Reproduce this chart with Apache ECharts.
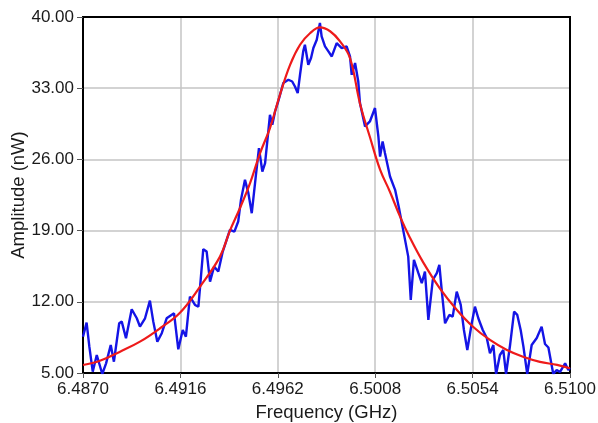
<!DOCTYPE html>
<html>
<head>
<meta charset="utf-8">
<script src="https://cdn.jsdelivr.net/npm/echarts@6/dist/echarts.min.js"></script>
<style>
  html, body { margin: 0; padding: 0; background: #fff; }
  #chart { width: 598px; height: 423px; }
</style>
</head>
<body>
<div id="chart"></div>
<script>
// Measured spectrum (GHz, nW)
const freqMeas = [
  6.48700, 6.48717, 6.48730, 6.48746, 6.48765, 6.48791, 6.48809, 6.48831, 6.48846, 6.48871,
  6.48883, 6.48903, 6.48930, 6.48954, 6.48969, 6.48993, 6.49016, 6.49032, 6.49051, 6.49072,
  6.49095, 6.49130, 6.49150, 6.49171, 6.49186, 6.49205, 6.49229, 6.49245, 6.49268, 6.49284,
  6.49300, 6.49319, 6.49339, 6.49360, 6.49394, 6.49415, 6.49433, 6.49446, 6.49465, 6.49481,
  6.49497, 6.49516, 6.49531, 6.49547, 6.49560, 6.49575, 6.49583, 6.49594, 6.49607, 6.49622,
  6.49646, 6.49670, 6.49688, 6.49701, 6.49714, 6.49725, 6.49740, 6.49748, 6.49764, 6.49777,
  6.49788, 6.49804, 6.49819, 6.49827, 6.49843, 6.49859, 6.49875, 6.49898, 6.49922, 6.49945,
  6.49961, 6.49969, 6.49985, 6.50000, 6.50008, 6.50032, 6.50055, 6.50079, 6.50095, 6.50103,
  6.50115, 6.50126, 6.50150, 6.50174, 6.50194, 6.50221, 6.50236, 6.50248, 6.50263, 6.50284,
  6.50300, 6.50315, 6.50331, 6.50352, 6.50371, 6.50383, 6.50394, 6.50410, 6.50430, 6.50446,
  6.50465, 6.50484, 6.50499, 6.50515, 6.50536, 6.50551, 6.50567, 6.50588, 6.50607, 6.50622,
  6.50638, 6.50651, 6.50669, 6.50685, 6.50698, 6.50717, 6.50736, 6.50751, 6.50767, 6.50780,
  6.50798, 6.50819, 6.50843, 6.50866, 6.50882, 6.50898, 6.50921, 6.50937, 6.50953, 6.50977,
  6.50992, 6.51000
];
const ampMeas = [
  8.57, 9.95, 7.59, 5.13, 6.77, 4.90, 5.95, 7.75, 6.11, 9.89,
  10.05, 8.41, 11.27, 10.38, 9.56, 10.38, 12.11, 10.05, 8.08, 8.91,
  10.38, 10.87, 7.33, 9.23, 8.57, 12.51, 11.69, 11.52, 17.17, 16.94,
  13.98, 15.46, 14.97, 16.94, 19.07, 18.90, 19.89, 22.02, 23.99, 22.68,
  20.71, 24.32, 27.11, 24.81, 25.63, 28.74, 30.39, 29.40, 30.71, 31.70,
  33.51, 33.83, 33.66, 33.17, 32.52, 34.32, 36.62, 37.27, 35.31, 35.97,
  36.95, 37.77, 39.41, 38.09, 37.11, 36.62, 36.12, 37.44, 36.95, 37.11,
  36.12, 34.32, 35.47, 33.66, 31.54, 29.24, 29.73, 31.05, 28.25, 26.28,
  27.76, 26.62, 24.32, 23.01, 21.04, 18.09, 16.44, 12.18, 16.12, 14.81,
  13.83, 14.97, 10.22, 14.15, 14.81, 15.63, 13.17, 9.89, 10.71, 10.54,
  13.00, 11.69, 9.23, 7.26, 9.89, 11.52, 10.38, 9.23, 8.44, 6.94,
  7.75, 4.90, 6.77, 7.26, 4.90, 7.75, 11.03, 10.71, 9.23, 7.59,
  4.90, 7.75, 8.44, 9.56, 7.85, 7.51, 4.90, 5.30, 5.10, 5.95,
  5.30, 5.49
];

// Fitted resonance curve (GHz, nW)
const freqFit = [
  6.48700, 6.48780, 6.48875, 6.48969, 6.49064, 6.49158, 6.49253, 6.49347, 6.49394, 6.49441,
  6.49489, 6.49536, 6.49583, 6.49630, 6.49678, 6.49725, 6.49772, 6.49819, 6.49867, 6.49914,
  6.49961, 6.50008, 6.50055, 6.50103, 6.50150, 6.50197, 6.50244, 6.50306, 6.50386, 6.50466,
  6.50542, 6.50622, 6.50702, 6.50778, 6.50858, 6.50939, 6.51000
];
const ampFit = [
  5.79, 6.20, 7.10, 8.08, 9.40, 10.93, 13.50, 16.44, 19.00, 21.20,
  23.67, 26.60, 29.08, 32.35, 35.30, 37.27, 38.40, 38.98, 38.60, 37.60,
  35.96, 31.50, 28.20, 25.00, 22.80, 20.40, 18.30, 15.90, 13.30, 11.20,
  9.55, 8.25, 7.26, 6.60, 6.10, 5.80, 5.46
];

// Axis ranges and tick labels
const freqMin = 6.4870, freqMax = 6.5100, freqStep = 0.0046;
const ampMin = 5, ampMax = 40, ampStep = 7;
const xTickLabels = ['6.4870', '6.4916', '6.4962', '6.5008', '6.5054', '6.5100'];
const yTickLabels = ['5.00', '12.00', '19.00', '26.00', '33.00', '40.00'];

// Axes run from zero so ticks land on the axis ends; labels add the offsets back.
const toPoints = (xs, ys) => xs.map((x, i) => [x - freqMin, ys[i] - ampMin]);

const FONT = '"Liberation Sans", Arial, sans-serif';
const TXT = '#1a1a1a';

const chart = echarts.init(document.getElementById('chart'), null, { renderer: 'canvas' });

chart.setOption({
  animation: false,
  backgroundColor: '#ffffff',
  grid: {
    left: 83, right: 28, top: 17, bottom: 50,
    outerBoundsMode: 'none',
    containLabel: false,
    show: true, borderColor: '#000', borderWidth: 2, backgroundColor: '#fff'
  },
  xAxis: [{
    type: 'value',
    min: 0, max: freqMax - freqMin, interval: freqStep,
    name: 'Frequency (GHz)', nameLocation: 'middle', nameGap: 30,
    nameMoveOverlap: false,
    nameTextStyle: { fontFamily: FONT, fontSize: 18.5, color: TXT },
    axisLine: { show: true, onZero: false, lineStyle: { color: '#000', width: 2 } },
    axisTick: { show: true, length: 5, lineStyle: { color: '#555', width: 1 } },
    axisLabel: {
      margin: 8, fontFamily: FONT, fontSize: 17, color: TXT,
      formatter: (v) => xTickLabels[Math.round(v / freqStep)] ?? ''
    },
    splitLine: { show: true, lineStyle: { color: '#c4c4c4', width: 1.5 } }
  }, {
    type: 'value', position: 'top',
    min: 0, max: freqMax - freqMin,
    axisLine: { show: true, onZero: false, lineStyle: { color: '#000', width: 2 } },
    axisTick: { show: false }, axisLabel: { show: false }, splitLine: { show: false }
  }],
  yAxis: [{
    type: 'value',
    min: 0, max: ampMax - ampMin, interval: ampStep,
    name: 'Amplitude (nW)', nameLocation: 'middle', nameGap: 55,
    nameMoveOverlap: false,
    nameTextStyle: { fontFamily: FONT, fontSize: 18.5, color: TXT },
    axisLine: { show: true, onZero: false, lineStyle: { color: '#000', width: 2 } },
    axisTick: { show: true, length: 6, lineStyle: { color: '#555', width: 1 } },
    axisLabel: {
      margin: 9, fontFamily: FONT, fontSize: 17, color: TXT,
      formatter: (v) => yTickLabels[Math.round(v / ampStep)] ?? ''
    },
    splitLine: { show: true, lineStyle: { color: '#c4c4c4', width: 1.5 } }
  }, {
    type: 'value', position: 'right',
    min: 0, max: ampMax - ampMin,
    axisLine: { show: true, onZero: false, lineStyle: { color: '#000', width: 2 } },
    axisTick: { show: false }, axisLabel: { show: false }, splitLine: { show: false }
  }],
  series: [{
    name: 'Measured',
    type: 'line',
    data: toPoints(freqMeas, ampMeas),
    showSymbol: false,
    clip: true,
    lineStyle: { color: '#1414e6', width: 2.4 },
    z: 3
  }, {
    name: 'Fit',
    type: 'line',
    data: toPoints(freqFit, ampFit),
    showSymbol: false,
    smooth: 0.4,
    clip: true,
    lineStyle: { color: '#ee1a1a', width: 2.2 },
    z: 4
  }]
});
</script>
</body>
</html>
